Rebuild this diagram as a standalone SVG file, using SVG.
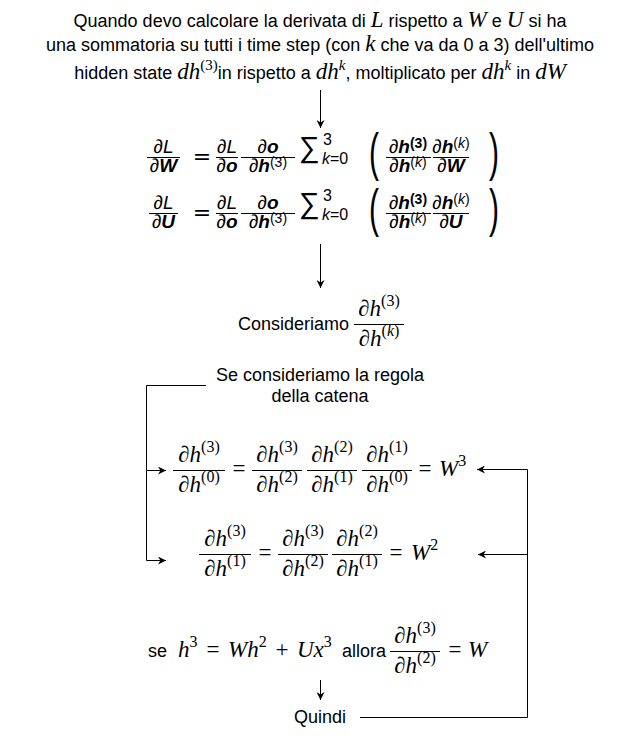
<svg xmlns="http://www.w3.org/2000/svg" width="641" height="751" viewBox="0 0 641 751">
<defs>
<style>
.t{font-family:"Liberation Sans",Arial,sans-serif;font-size:18px;fill:#000}
.m{font-family:"Liberation Serif","Times New Roman",serif;font-style:italic;font-size:23px;fill:#000}
.sp{font-size:16px}
.sq{font-size:15px}
.s{font-family:"Liberation Sans",Arial,sans-serif;font-style:italic;font-size:19px;fill:#000}
.ss{font-size:14px}
.sm{font-size:16px}
.b{font-weight:bold}
.eq{font-family:"DejaVu Sans",sans-serif;font-size:22px;fill:#000}
.sum{font-family:"Liberation Sans",Arial,sans-serif;font-size:29px;fill:#000}
.par{font-family:"Liberation Sans",Arial,sans-serif;font-size:30px;fill:#000}
.bar{stroke:#000;stroke-width:1}
.ln{stroke:#000;stroke-width:1;fill:none}
.up{font-style:normal}
.it{font-style:italic}
</style>
<marker id="ah" viewBox="0 0 10 10" refX="10" refY="5" markerWidth="8" markerHeight="8" markerUnits="userSpaceOnUse" orient="auto"><path d="M0,0 L10,5 L0,10 L3,5 z" fill="#000"/></marker>
</defs>
<rect width="641" height="751" fill="#fff"/>

<g id="connectors">
<path class="ln" d="M320.5,90 V128" marker-end="url(#ah)"/>
<path class="ln" d="M320.5,244 V288" marker-end="url(#ah)"/>
<path class="ln" d="M206,385.5 H146.5 V470.5 H166" marker-end="url(#ah)"/>
<path class="ln" d="M146.5,470.5 V560.5 H166" marker-end="url(#ah)"/>
<path class="ln" d="M360,717.5 H527.5 V469.5 H477" marker-end="url(#ah)"/>
<path class="ln" d="M527.5,554.5 H478" marker-end="url(#ah)"/>
<path class="ln" d="M320.5,680 V700" marker-end="url(#ah)"/>
</g>

<g id="intro">
<text class="t" text-anchor="middle" x="320" y="27">Quando devo calcolare la derivata di <tspan class="m">L</tspan> rispetto a <tspan class="m">W</tspan> e <tspan class="m">U</tspan> si ha</text>
<text class="t" text-anchor="middle" x="320" y="51">una sommatoria su tutti i time step (con <tspan class="m">k</tspan> che va da 0 a 3) dell'ultimo</text>
<text class="t" text-anchor="middle" x="320" y="79">hidden state <tspan class="m">dh</tspan><tspan class="m up sq" dy="-9">(3)</tspan><tspan dy="9">in rispetto a </tspan><tspan class="m">dh</tspan><tspan class="m sq" dy="-9">k</tspan><tspan dy="9">, moltiplicato per </tspan><tspan class="m">dh</tspan><tspan class="m sq" dy="-9">k</tspan><tspan dy="9"> in </tspan><tspan class="m">dW</tspan></text>
</g>

<g id="eqW">
<text class="s" x="163.5" y="152.5" text-anchor="middle">∂L</text>
<line class="bar" x1="147" x2="180" y1="157.5" y2="157.5"/>
<text class="s" x="163.5" y="172" text-anchor="middle">∂<tspan class="b">W</tspan></text>
<text class="eq" x="202" y="164" text-anchor="middle">=</text>
<text class="s" x="227" y="152.5" text-anchor="middle">∂L</text>
<line class="bar" x1="216" x2="238" y1="157.5" y2="157.5"/>
<text class="s" x="227" y="172" text-anchor="middle">∂<tspan class="b">o</tspan></text>
<text class="s" x="268" y="152.5" text-anchor="middle">∂<tspan class="b">o</tspan></text>
<line class="bar" x1="241" x2="295" y1="157.5" y2="157.5"/>
<text class="s" x="268" y="172" text-anchor="middle">∂<tspan class="b">h</tspan><tspan class="up ss" dy="-5">(3)</tspan></text>
<text class="sum" x="299" y="157">∑</text>
<text class="s up sm" x="323" y="145">3</text>
<text class="s sm" x="322" y="164">k<tspan class="up">=0</tspan></text>
<text class="par" transform="translate(369,170) scale(1,1.7)">(</text>
<text class="s" x="408" y="152.5" text-anchor="middle">∂<tspan class="b">h</tspan><tspan class="b up ss" dy="-5">(3)</tspan></text>
<line class="bar" x1="386" x2="431" y1="157.5" y2="157.5"/>
<text class="s" x="408" y="172" text-anchor="middle">∂<tspan class="b">h</tspan><tspan class="up ss" dy="-5">(<tspan class="it">k</tspan>)</tspan></text>
<text class="s" x="451" y="152.5" text-anchor="middle">∂<tspan class="b">h</tspan><tspan class="up ss" dy="-5">(<tspan class="it">k</tspan>)</tspan></text>
<line class="bar" x1="433" x2="469" y1="157.5" y2="157.5"/>
<text class="s" x="451" y="172" text-anchor="middle">∂<tspan class="b">W</tspan></text>
<text class="par" transform="translate(489,170) scale(1,1.7)">)</text>
</g>

<g id="eqU">
<text class="s" x="163.5" y="208.5" text-anchor="middle">∂L</text>
<line class="bar" x1="149" x2="178" y1="213.5" y2="213.5"/>
<text class="s" x="163.5" y="228" text-anchor="middle">∂<tspan class="b">U</tspan></text>
<text class="eq" x="202" y="220" text-anchor="middle">=</text>
<text class="s" x="227" y="208.5" text-anchor="middle">∂L</text>
<line class="bar" x1="216" x2="238" y1="213.5" y2="213.5"/>
<text class="s" x="227" y="228" text-anchor="middle">∂<tspan class="b">o</tspan></text>
<text class="s" x="268" y="208.5" text-anchor="middle">∂<tspan class="b">o</tspan></text>
<line class="bar" x1="241" x2="295" y1="213.5" y2="213.5"/>
<text class="s" x="268" y="228" text-anchor="middle">∂<tspan class="b">h</tspan><tspan class="up ss" dy="-5">(3)</tspan></text>
<text class="sum" x="299" y="213">∑</text>
<text class="s up sm" x="323" y="201">3</text>
<text class="s sm" x="322" y="220">k<tspan class="up">=0</tspan></text>
<text class="par" transform="translate(369,226) scale(1,1.7)">(</text>
<text class="s" x="408" y="208.5" text-anchor="middle">∂<tspan class="b">h</tspan><tspan class="b up ss" dy="-5">(3)</tspan></text>
<line class="bar" x1="386" x2="431" y1="213.5" y2="213.5"/>
<text class="s" x="408" y="228" text-anchor="middle">∂<tspan class="b">h</tspan><tspan class="up ss" dy="-5">(<tspan class="it">k</tspan>)</tspan></text>
<text class="s" x="451" y="208.5" text-anchor="middle">∂<tspan class="b">h</tspan><tspan class="up ss" dy="-5">(<tspan class="it">k</tspan>)</tspan></text>
<line class="bar" x1="433" x2="469" y1="213.5" y2="213.5"/>
<text class="s" x="451" y="228" text-anchor="middle">∂<tspan class="b">U</tspan></text>
<text class="par" transform="translate(489,226) scale(1,1.7)">)</text>
</g>

<g id="consideriamo">
<text class="t" x="349" y="330" text-anchor="end">Consideriamo</text>
<g transform="translate(379,324.5)">
<text class="m" text-anchor="middle" y="-8.5">∂h<tspan class="up sp" dy="-10">(3)</tspan></text>
<line class="bar" x1="-25" x2="25" y1="0" y2="0"/>
<text class="m" text-anchor="middle" y="21">∂h<tspan class="up sp" dy="-10">(<tspan class="it">k</tspan>)</tspan></text>
</g>
</g>

<g id="regola">
<text class="t" x="320" y="381" text-anchor="middle">Se consideriamo la regola</text>
<text class="t" x="320" y="402" text-anchor="middle">della catena</text>
</g>

<g id="chain0">
<g transform="translate(199,470.5)">
<text class="m" text-anchor="middle" y="-8.5">∂h<tspan class="up sp" dy="-10">(3)</tspan></text>
<line class="bar" x1="-26" x2="26" y1="0" y2="0"/>
<text class="m" text-anchor="middle" y="21.5">∂h<tspan class="up sp" dy="-10">(0)</tspan></text>
</g>
<text class="m up" x="239" y="476" text-anchor="middle">=</text>
<g transform="translate(277,470.5)">
<text class="m" text-anchor="middle" y="-8.5">∂h<tspan class="up sp" dy="-10">(3)</tspan></text>
<line class="bar" x1="-25" x2="25" y1="0" y2="0"/>
<text class="m" text-anchor="middle" y="21.5">∂h<tspan class="up sp" dy="-10">(2)</tspan></text>
</g>
<g transform="translate(332,470.5)">
<text class="m" text-anchor="middle" y="-8.5">∂h<tspan class="up sp" dy="-10">(2)</tspan></text>
<line class="bar" x1="-25" x2="25" y1="0" y2="0"/>
<text class="m" text-anchor="middle" y="21.5">∂h<tspan class="up sp" dy="-10">(1)</tspan></text>
</g>
<g transform="translate(387,470.5)">
<text class="m" text-anchor="middle" y="-8.5">∂h<tspan class="up sp" dy="-10">(1)</tspan></text>
<line class="bar" x1="-25" x2="25" y1="0" y2="0"/>
<text class="m" text-anchor="middle" y="21.5">∂h<tspan class="up sp" dy="-10">(0)</tspan></text>
</g>
<text class="m up" x="425" y="476" text-anchor="middle">=</text>
<text class="m" x="439" y="476">W<tspan class="up sp" dy="-10">3</tspan></text>
</g>

<g id="chain1">
<g transform="translate(225,554.5)">
<text class="m" text-anchor="middle" y="-8.5">∂h<tspan class="up sp" dy="-10">(3)</tspan></text>
<line class="bar" x1="-26" x2="26" y1="0" y2="0"/>
<text class="m" text-anchor="middle" y="21.5">∂h<tspan class="up sp" dy="-10">(1)</tspan></text>
</g>
<text class="m up" x="265" y="560" text-anchor="middle">=</text>
<g transform="translate(303,554.5)">
<text class="m" text-anchor="middle" y="-8.5">∂h<tspan class="up sp" dy="-10">(3)</tspan></text>
<line class="bar" x1="-25" x2="25" y1="0" y2="0"/>
<text class="m" text-anchor="middle" y="21.5">∂h<tspan class="up sp" dy="-10">(2)</tspan></text>
</g>
<g transform="translate(357,554.5)">
<text class="m" text-anchor="middle" y="-8.5">∂h<tspan class="up sp" dy="-10">(2)</tspan></text>
<line class="bar" x1="-25" x2="25" y1="0" y2="0"/>
<text class="m" text-anchor="middle" y="21.5">∂h<tspan class="up sp" dy="-10">(1)</tspan></text>
</g>
<text class="m up" x="396" y="560" text-anchor="middle">=</text>
<text class="m" x="411" y="560">W<tspan class="up sp" dy="-10">2</tspan></text>
</g>

<g id="se">
<text class="t" x="148" y="657">se</text>
<text class="m" x="178" y="657">h<tspan class="up sp" dy="-10">3</tspan></text>
<text class="m up" x="213" y="657" text-anchor="middle">=</text>
<text class="m" x="228" y="657">Wh<tspan class="up sp" dy="-10">2</tspan></text>
<text class="m up" x="282" y="657" text-anchor="middle">+</text>
<text class="m" x="297" y="657">Ux<tspan class="up sp" dy="-10">3</tspan></text>
<text class="t" x="342" y="657">allora</text>
<g transform="translate(415,651.5)">
<text class="m" text-anchor="middle" y="-8.5">∂h<tspan class="up sp" dy="-10">(3)</tspan></text>
<line class="bar" x1="-25" x2="25" y1="0" y2="0"/>
<text class="m" text-anchor="middle" y="21.5">∂h<tspan class="up sp" dy="-10">(2)</tspan></text>
</g>
<text class="m up" x="455" y="657" text-anchor="middle">=</text>
<text class="m" x="468" y="657">W</text>
</g>

<g id="quindi">
<text class="t" x="320" y="723" text-anchor="middle">Quindi</text>
</g>
</svg>
